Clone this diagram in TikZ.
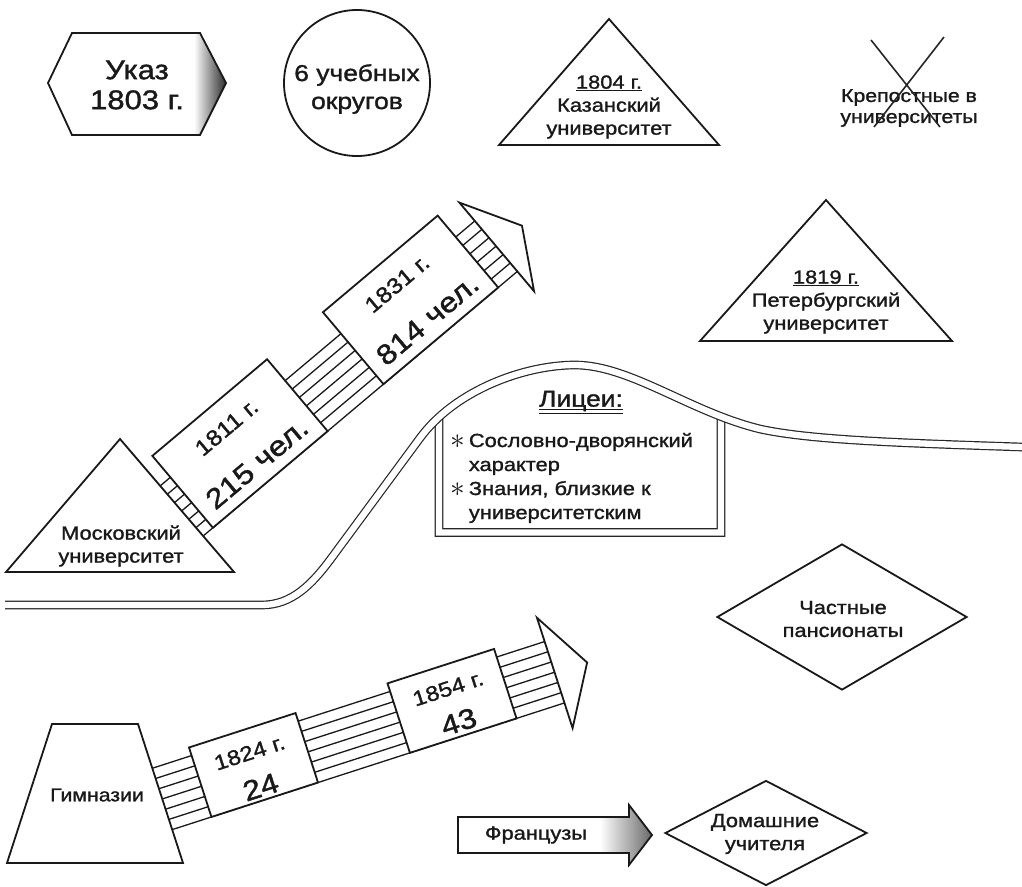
\documentclass[tikz,border=0pt]{standalone}
\usepackage{fontspec}
\setmainfont{Liberation Sans}[FakeStretch=1.15,FakeBold=1.3]
\usepackage{graphicx}
\usetikzlibrary{intersections,shapes.geometric}
\newcommand{\lycstar}{\raisebox{-1.5pt}{\scalebox{1.7}{$\ast$}}}
\newcommand{\wavepath}{(5,605) -- (262,605) .. controls (292,605) and (312,584) .. (330,560) -- (420,438) .. controls (455.6,389.7) and (525,365) .. (575,365) .. controls (630,365) and (690,412) .. (760,429) .. controls (810,440) and (900,443) .. (1022,447)}
\newcommand{\ukazpath}{(48,83) -- (72,33) -- (200,33) -- (226,83) -- (200,135) -- (72,135) -- cycle}
\newcommand{\frenchpath}{(458,817) -- (629,817) -- (629,805) -- (652,835) -- (629,865) -- (629,853) -- (458,853) -- cycle}

\begin{document}
\begin{tikzpicture}[x=1pt,y=-1pt,
		outline/.style={draw=black!90,line width=1.8pt,line join=miter},
		caption/.style={font=\fontsize{19}{23}\selectfont,text=black!90,align=center,inner sep=0pt},
		bigbox/.style={outline,fill=white,rotate=40.1,minimum width=150pt,minimum height=94pt,inner sep=0pt},
		smallbox/.style={outline,fill=white,rotate=17.9,minimum width=112pt,minimum height=73pt,inner sep=0pt},
		yeartext/.style={caption,font=\fontsize{22}{26}\selectfont},
		counttext/.style={caption,font=\fontsize{28}{32}\selectfont},
		stripe/.style={draw=black!90,line width=1.3pt},
		wall/.style={draw=black!85,line width=1.2pt,double=white,double distance=6.3pt}]
	\path[use as bounding box,fill=white] (0,0) rectangle (1022,886);

	\begin{scope}
		\clip \ukazpath;
		\shade[left color=white,right color=black!85] (194,30) rectangle (227,138);
	\end{scope}
	\draw[outline] \ukazpath;
	\node[caption,font=\fontsize{27}{30}\selectfont] (ukaz) at (137,85) {Указ\\1803 г.};

	\node[circle,outline,minimum size=146pt,inner sep=0pt] (okruga) at (357,83) {};
	\node[caption,font=\fontsize{23}{28}\selectfont] (okrtext) at (357,89) {6 учебных\\округов};

	\draw[outline] (609,19) -- (719,145) -- (499,145) -- cycle;
	\node[caption] (kazan) at (609,107) {\underline{1804 г.}\\Казанский\\университет};

	\node[caption,font=\fontsize{18.5}{21}\selectfont] (serfs) at (909,108) {Крепостные в\\университеты};
	\draw[line width=1.6pt,black!85] (871,40) -- (940,127) (944,37) -- (874,127);

	\draw[outline] (826,200) -- (952,341) -- (700,341) -- cycle;
	\node[caption] (spb) at (826,302) {\underline{1819 г.}\\Петербургский\\университет};

	\begin{scope}[shift={(240,443.5)},rotate=40.1]
		\foreach \v in {-19,-8,3,14,25,36,47}
			\draw[stripe] (-110,\v) -- (323,\v);
	\end{scope}
	\draw[outline,fill=white] (120,439) -- (234,572) -- (6,572) -- cycle;
	\node[caption] (mgu) at (121,546) {Московский\\университет};
	\begin{scope}[shift={(240,443.5)},rotate=40.1]
		\node[bigbox] (box1811) at (0,0) {};
		\node[yeartext,rotate=40.1] (y1811) at (0,-21) {1811 г.};
		\node[counttext,rotate=40.1] (n1811) at (0,26) {215 чел.};
		\node[bigbox] (box1831) at (223,0) {};
		\node[yeartext,rotate=40.1] (y1831) at (223,-21) {1831 г.};
		\node[counttext,rotate=40.1] (n1831) at (223,26) {814 чел.};
		\draw[outline,fill=white] (323,-43) -- (356,15) -- (323,73) -- cycle;
	\end{scope}

	\begin{scope}[shift={(253.5,765)},rotate=17.9]
		\foreach \v in {-28,-17.25,-6.5,4.25,15,25.75,36.5}
			\draw[stripe] (-120,\v) -- (315,\v);
	\end{scope}
	\draw[outline,fill=white] (52,724) -- (138,724) -- (183,863) -- (7,863) -- cycle;
	\node[caption,font=\fontsize{18.5}{22}\selectfont] (gymn) at (97,795) {Гимназии};
	\begin{scope}[shift={(253.5,765)},rotate=17.9]
		\node[smallbox] (box1824) at (0,0) {};
		\node[yeartext,font=\fontsize{21}{24}\selectfont,rotate=17.9] (y1824) at (0,-13) {1824 г.};
		\node[counttext,rotate=17.9] (n1824) at (0,23) {24};
		\node[smallbox] (box1854) at (208.6,0) {};
		\node[yeartext,font=\fontsize{21}{24}\selectfont,rotate=17.9] (y1854) at (208.6,-13) {1854 г.};
		\node[counttext,rotate=17.9] (n1854) at (208.6,22) {43};
		\draw[outline,fill=white] (315,-53) -- (349,5) -- (315,63) -- cycle;
	\end{scope}

	\path[name path=wave] \wavepath;
	\path[name path=leftwall] (439,380) -- (439,540);
	\path[name path=rightwall] (721,380) -- (721,540);
	\path[name intersections={of=wave and leftwall,by=lwtop}];
	\path[name intersections={of=wave and rightwall,by=rwtop}];
	\draw[wall] (lwtop) -- (439,532.5) -- (721,532.5) -- (rwtop);
	\draw[wall] \wavepath;
	\node[caption,font=\fontsize{23}{26}\selectfont] (lyc) at (581,401) {Лицеи:};
	\draw[line width=1pt,black!90] ([yshift=-3pt]lyc.base west) -- ([yshift=-3pt]lyc.base east)
		([yshift=-6.5pt]lyc.base west) -- ([yshift=-6.5pt]lyc.base east);
	\node[caption,font=\fontsize{19}{24}\selectfont,anchor=north west,align=left] (lycitems) at (450,430)
		{\begin{tabular}{@{}c@{\hspace{4pt}}l@{}}\lycstar & Сословно-дворянский\\ & характер\\ \lycstar & Знания, близкие к\\ & университетским\end{tabular}};

	\node[diamond,outline,minimum width=250pt,minimum height=146pt,inner sep=0pt] (pens) at (842,617) {};
	\node[caption] (penstext) at (843,619) {Частные\\пансионаты};
	\node[diamond,outline,minimum width=202pt,minimum height=105pt,inner sep=0pt] (tutors) at (766,833) {};
	\node[caption] (tutorstext) at (765,834) {Домашние\\учителя};

	\begin{scope}
		\clip \frenchpath;
		\shade[left color=white,right color=black!60] (600,800) rectangle (653,870);
	\end{scope}
	\draw[outline] \frenchpath;
	\node[caption] (french) at (536,835) {Французы};
\end{tikzpicture}
\end{document}
